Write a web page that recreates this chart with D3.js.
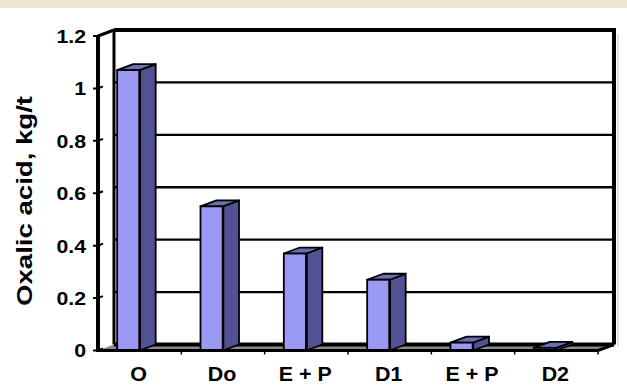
<!DOCTYPE html>
<html>
<head>
<meta charset="utf-8">
<script src="https://cdn.jsdelivr.net/npm/d3@7"></script>
<style>
  html, body { margin: 0; padding: 0; background: #ffffff; }
  svg { display: block; }
  text { font-family: "Liberation Sans", Arial, sans-serif; font-weight: bold; fill: #000; }
</style>
</head>
<body>
<svg id="chart" width="627" height="385"></svg>
<script>
// Oxalic acid formed at each bleaching stage
const categories = ["O", "Do", "E + P", "D1", "E + P", "D2"];
const values = [1.07, 0.55, 0.37, 0.27, 0.03, 0.01];
const yTicks = [0, 0.2, 0.4, 0.6, 0.8, 1, 1.2];
const yTitle = "Oxalic acid, kg/t";

const W = 627, H = 385;
const svg = d3.select("#chart");

// 3-D depth offset of the plot box (back plane relative to front plane)
const DX = 16, DY = -6;

const x = d3.scaleBand().domain(d3.range(categories.length)).range([98, 598]);
const y = d3.scaleLinear().domain([0, 1.2]).range([350.5, 36]);
const step = x.step();

// beige strip across the top
svg.append("rect").attr("x", 0).attr("y", 0).attr("width", W).attr("height", 8).attr("fill", "#ebe7d2");

const x0 = x.range()[0], x1 = x.range()[1];
const yBase = y(0), yTop = y(1.2);

// back wall
svg.append("rect")
  .attr("x", x0 + DX).attr("y", yTop + DY)
  .attr("width", x1 - x0).attr("height", yBase - yTop)
  .attr("fill", "#ffffff");

// gridlines on the back wall
svg.append("g").selectAll("line")
  .data(yTicks.filter(v => v > 0 && v < 1.2))
  .join("line")
  .attr("x1", x0 + DX).attr("x2", x1 + DX)
  .attr("y1", d => y(d) + DY).attr("y2", d => y(d) + DY)
  .attr("stroke", "#000").attr("stroke-width", 2.3);

// faint shadow beside the right wall
svg.append("line")
  .attr("x1", x1 + DX + 4).attr("x2", x1 + DX + 4)
  .attr("y1", yTop + DY + 4).attr("y2", yBase + DY + 2)
  .attr("stroke", "#d6d6d6").attr("stroke-width", 1.5);

// top and right edge of the back wall
svg.append("path")
  .attr("d", `M${x0 + DX},${yTop + DY}H${x1 + DX}V${yBase + DY}`)
  .attr("fill", "none").attr("stroke", "#000").attr("stroke-width", 4);

// left side wall
svg.append("path")
  .attr("d", `M${x0},${yBase}V${yTop}L${x0 + DX},${yTop + DY}V${yBase + DY}Z`)
  .attr("fill", "#ffffff").attr("stroke", "none");
svg.append("line")
  .attr("x1", x0 + DX).attr("x2", x0 + DX)
  .attr("y1", yTop + DY).attr("y2", yBase + DY)
  .attr("stroke", "#000").attr("stroke-width", 3);
svg.append("line")
  .attr("x1", x0).attr("x2", x0 + DX)
  .attr("y1", yTop).attr("y2", yTop + DY)
  .attr("stroke", "#000").attr("stroke-width", 3);

// floor
svg.append("path")
  .attr("d", `M${x0},${yBase}H${x1}L${x1 + DX},${yBase + DY}H${x0 + DX}Z`)
  .attr("fill", "#8a8a8a");
svg.append("line")
  .attr("x1", x0 + DX).attr("x2", x1 + DX)
  .attr("y1", yBase + DY).attr("y2", yBase + DY)
  .attr("stroke", "#000").attr("stroke-width", 4);

// columns
const faceOff = step * 0.23, faceW = step * 0.27;
const bars = svg.append("g").selectAll("g")
  .data(values)
  .join("g");

bars.append("path") // side face
  .attr("d", (d, i) => {
    const fx = x(i) + faceOff + faceW, t = y(d);
    return `M${fx},${yBase}V${t}L${fx + DX},${t + DY}V${yBase + DY}Z`;
  })
  .attr("fill", "#515193").attr("stroke", "#000").attr("stroke-width", 1.8).attr("stroke-linejoin", "round");

bars.append("path") // top face
  .attr("d", (d, i) => {
    const fx = x(i) + faceOff, t = y(d);
    return `M${fx},${t}L${fx + DX},${t + DY}H${fx + faceW + DX}L${fx + faceW},${t}Z`;
  })
  .attr("fill", "#6d6db5").attr("stroke", "#000").attr("stroke-width", 1.8).attr("stroke-linejoin", "round");

bars.append("rect") // front face
  .attr("x", (d, i) => x(i) + faceOff)
  .attr("y", d => y(d))
  .attr("width", faceW)
  .attr("height", d => yBase - y(d))
  .attr("fill", "#9a9af4").attr("stroke", "#000").attr("stroke-width", 1.8);

bars.append("line") // edge between front and side faces
  .attr("x1", (d, i) => x(i) + faceOff + faceW).attr("x2", (d, i) => x(i) + faceOff + faceW)
  .attr("y1", d => y(d)).attr("y2", yBase)
  .attr("stroke", "#000").attr("stroke-width", 2.5);

// front floor edge and right floor edge
svg.append("path")
  .attr("d", `M${x0},${yBase}H${x1}L${x1 + DX},${yBase + DY}`)
  .attr("fill", "none").attr("stroke", "#000").attr("stroke-width", 3);

// category tick marks under the floor
svg.append("g").selectAll("line")
  .data(d3.range(1, categories.length + 1))
  .join("line")
  .attr("x1", i => x0 + i * step).attr("x2", i => x0 + i * step)
  .attr("y1", yBase).attr("y2", yBase + 4)
  .attr("stroke", "#000").attr("stroke-width", 1.5);

// value axis (front left edge)
svg.append("line")
  .attr("x1", x0).attr("x2", x0)
  .attr("y1", yTop).attr("y2", yBase + 1.5)
  .attr("stroke", "#000").attr("stroke-width", 4);

const ticks = svg.append("g").selectAll("g")
  .data(yTicks)
  .join("g");
ticks.append("path")
  .attr("d", d => `M${x0 - 5},${y(d)}H${x0}L${x0 + 5},${y(d) - 2}`)
  .attr("fill", "none").attr("stroke", "#000").attr("stroke-width", 2);
ticks.append("text")
  .attr("transform", d => `translate(86,${y(d)}) scale(1.12,1)`)
  .attr("text-anchor", "end")
  .attr("dy", "0.36em")
  .attr("font-size", 19)
  .text(d => String(d));

// category labels
svg.append("g").selectAll("text")
  .data(categories)
  .join("text")
  .attr("transform", (d, i) => `translate(${x(i) + step / 2 - 1},380.5) scale(1.1,1)`)
  .attr("text-anchor", "middle")
  .attr("font-size", 19.5)
  .text(d => d);

// value axis title
svg.append("text")
  .attr("transform", "translate(32,201) rotate(-90)")
  .attr("text-anchor", "middle")
  .attr("font-size", 22)
  .attr("textLength", 210)
  .attr("lengthAdjust", "spacingAndGlyphs")
  .text(yTitle);
</script>
</body>
</html>
